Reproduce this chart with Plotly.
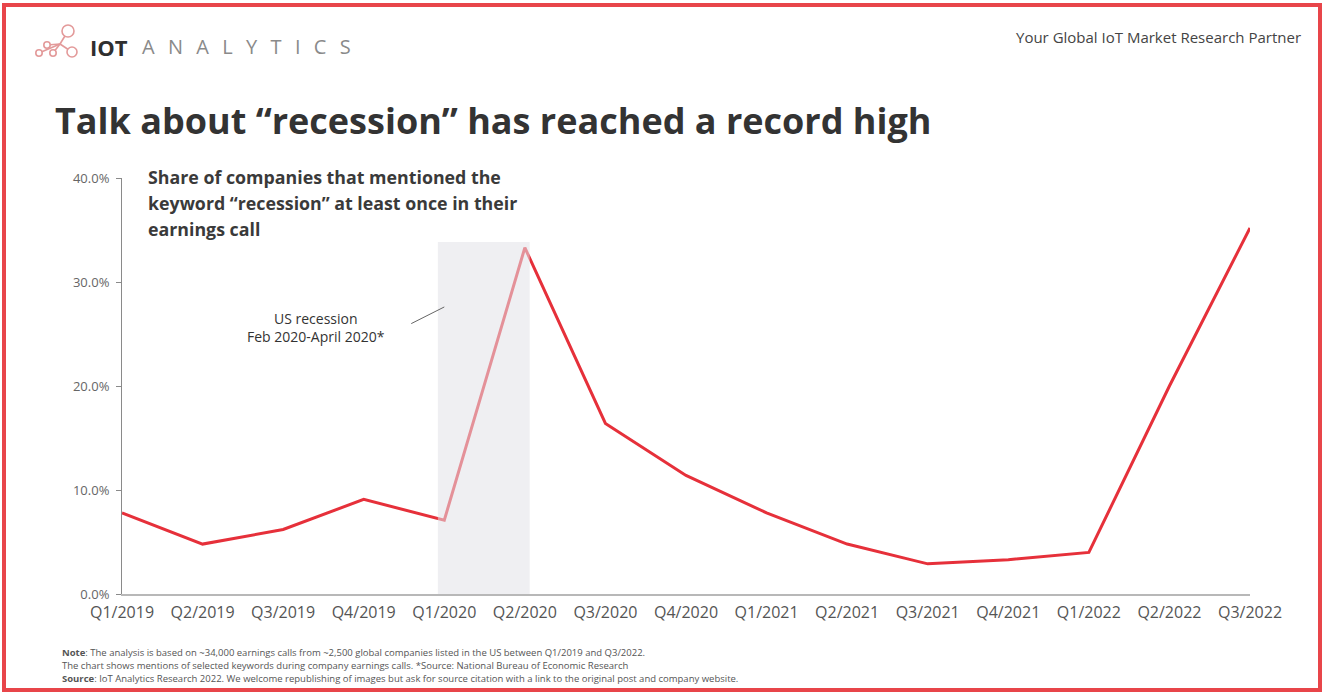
import plotly.graph_objects as go

# Quarterly share of companies mentioning "recession" in earnings calls (%)
quarters = ["Q1/2019", "Q2/2019", "Q3/2019", "Q4/2019", "Q1/2020", "Q2/2020",
            "Q3/2020", "Q4/2020", "Q1/2021", "Q2/2021", "Q3/2021", "Q4/2021",
            "Q1/2022", "Q2/2022", "Q3/2022"]
share_pct = [7.8, 4.8, 6.2, 9.1, 7.1, 33.3, 16.4, 11.4, 7.8, 4.8, 2.9, 3.3, 4.0, 20.0, 35.2]

y_ticks = [0, 10, 20, 30, 40]
y_ticklabels = ["0.0%", "10.0%", "20.0%", "30.0%", "40.0%"]

W, H = 1324, 693
ML, MR, MT, MB = 122, 74, 178, 99
PW, PH = W - ML - MR, H - MT - MB


def px(x):
    return (x - ML) / PW


def py(y):
    return (H - MB - y) / PH


RED = "#e6303a"
FONT = "Open Sans"

fig = go.Figure()
fig.add_trace(go.Scatter(
    x=list(range(len(quarters))), y=share_pct, mode="lines",
    line=dict(color=RED, width=3), hoverinfo="skip", showlegend=False,
))

shapes = []
# US recession band (Feb–Apr 2020), drawn translucent over the line
shapes.append(dict(type="rect", xref="x", yref="y", x0=3.92, x1=5.06, y0=0, y1=33.85,
                   fillcolor="rgba(226,226,232,0.55)", line=dict(width=0), layer="above"))
# leader line for the recession label
shapes.append(dict(type="line", xref="x", yref="y", x0=3.59, y0=26.0, x1=4.0, y1=27.6,
                   line=dict(color="#666666", width=1)))
# outer frame
shapes.append(dict(type="rect", xref="paper", yref="paper",
                   x0=px(4), x1=px(1320), y0=py(690), y1=py(5),
                   line=dict(color="#e8454a", width=4), fillcolor="rgba(0,0,0,0)"))

# logo glyph: small network of circles
logo_col = "#e39a9a"
nodes = [(39, 53, 3.2), (47, 45, 3.2), (53, 53, 3.2), (68, 31, 6), (72, 52, 5)]
hub = (60, 44)
for (cx, cy, r) in nodes:
    shapes.append(dict(type="line", xref="paper", yref="paper",
                       x0=px(hub[0]), y0=py(hub[1]), x1=px(cx), y1=py(cy),
                       line=dict(color=logo_col, width=1.6)))
for (cx, cy, r) in nodes:
    shapes.append(dict(type="circle", xref="paper", yref="paper",
                       x0=px(cx - r), x1=px(cx + r), y0=py(cy + r), y1=py(cy - r),
                       line=dict(color=logo_col, width=1.6), fillcolor="white"))

ann = []


def text(x, y, s, size, color="#333333", xanchor="left", yanchor="middle"):
    ann.append(dict(x=px(x), y=py(y), xref="paper", yref="paper", text=s, showarrow=False,
                    xanchor=xanchor, yanchor=yanchor, align=xanchor if xanchor != "center" else "center",
                    font=dict(family=FONT, size=size, color=color)))


text(88, 47, "<b>IOT</b>", 22, "#2f2f2f")
text(140, 47, "\u2002\u2009".join("ANALYTICS"), 20, "#8a8a8a")
text(1303, 37, "Your Global IoT Market Research Partner", 15, "#444444", xanchor="right")
text(53, 121, "<b>Talk about \u201crecession\u201d has reached a record high</b>", 36, "#333333")

sub = ["Share of companies that mentioned the",
       "keyword \u201crecession\u201d at least once in their",
       "earnings call"]
for i, line in enumerate(sub):
    text(146, 177 + 26 * i, "<b>" + line + "</b>", 17.8, "#3a3a3a")

text(316, 318, "US recession", 14, "#333333", xanchor="center")
text(316, 336, "Feb 2020-April 2020*", 14, "#333333", xanchor="center")

notes = [
    "<b>Note</b>: The analysis is based on ~34,000 earnings calls from ~2,500 global companies listed in the US between Q1/2019 and Q3/2022.",
    "The chart shows mentions of selected keywords during company earnings calls. *Source: National Bureau of Economic Research",
    "<b>Source</b>: IoT Analytics Research 2022. We welcome republishing of images but ask for source citation with a link to the original post and company website.",
]
for i, line in enumerate(notes):
    text(60, 652 + 13 * i, line, 9.5, "#555555")

fig.update_layout(
    width=W, height=H,
    margin=dict(l=ML, r=MR, t=MT, b=MB),
    paper_bgcolor="white", plot_bgcolor="white",
    shapes=shapes, annotations=ann,
    xaxis=dict(range=[0, len(quarters) - 1], tickvals=list(range(len(quarters))), ticktext=quarters,
               showgrid=False, zeroline=False, showline=True, linecolor="#b8b8b8", linewidth=1.5,
               ticks="", ticklabelstandoff=3,
               tickfont=dict(family=FONT, size=16, color="#555555"), fixedrange=True),
    yaxis=dict(range=[0, 40], tickvals=y_ticks, ticktext=y_ticklabels,
               showgrid=False, zeroline=False, showline=True, linecolor="#8a8a8a", linewidth=1,
               ticks="outside", ticklen=5, tickcolor="#8a8a8a", ticklabelstandoff=4,
               tickfont=dict(family=FONT, size=13, color="#666666"), fixedrange=True),
    showlegend=False,
)

fig.write_html("out.html")
